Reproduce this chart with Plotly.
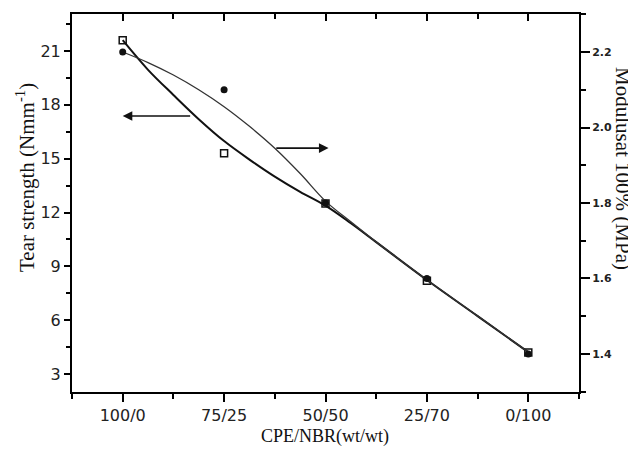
import plotly.graph_objects as go

# Data
categories = ["100/0", "75/25", "50/50", "25/70", "0/100"]
cat_pos = [0, 1, 2, 3, 4]
tear_strength = [21.6, 15.3, 12.5, 8.2, 4.2]
modulus_100 = [2.2, 2.1, 1.8, 1.6, 1.4]

# fitted curves (at quarter/half-category steps)
fit_pos = [0, 0.25, 0.5, 0.75, 1, 1.25, 1.5, 1.75, 2, 2.25, 2.5, 3, 3.5, 4]
tear_fit = [21.6, 19.95, 18.55, 17.2, 15.98, 14.95, 14.0, 13.15, 12.38, 11.4, 10.35, 8.24, 6.23, 4.22]
modulus_fit = [2.2, 2.172, 2.139, 2.100, 2.055, 2.003, 1.945, 1.878, 1.805, 1.750, 1.697, 1.596, 1.501, 1.405]

left_ticks = [3, 6, 9, 12, 15, 18, 21]
right_ticks = [1.4, 1.6, 1.8, 2.0, 2.2]

fig = go.Figure()

fig.add_trace(go.Scatter(x=fit_pos, y=tear_fit, mode="lines",
                         line=dict(color="#111111", width=2, shape="spline", smoothing=1.0),
                         yaxis="y", showlegend=False, hoverinfo="skip"))
fig.add_trace(go.Scatter(x=fit_pos, y=modulus_fit, mode="lines",
                         line=dict(color="#333333", width=1.3, shape="spline", smoothing=1.0),
                         yaxis="y2", showlegend=False, hoverinfo="skip"))
fig.add_trace(go.Scatter(x=cat_pos, y=tear_strength, mode="markers",
                         marker=dict(symbol="square-open", size=7, color="#111111", line=dict(width=1.5)),
                         yaxis="y", showlegend=False))
fig.add_trace(go.Scatter(x=cat_pos, y=modulus_100, mode="markers",
                         marker=dict(symbol="circle", size=7, color="#111111"),
                         yaxis="y2", showlegend=False))
# invisible trace for top axis
fig.add_trace(go.Scatter(x=[0], y=[10], xaxis="x2", yaxis="y", mode="markers",
                         marker=dict(opacity=0), showlegend=False, hoverinfo="skip"))

serif = "Liberation Serif, Times New Roman, serif"
sans = "DejaVu Sans, Arial, sans-serif"

fig.update_layout(
    width=628, height=442,
    margin=dict(l=64, r=57, t=6, b=58),
    paper_bgcolor="white", plot_bgcolor="white",
    xaxis=dict(range=[-0.5, 4.5], tickvals=cat_pos, ticktext=categories,
               showline=True, linecolor="black", linewidth=2, mirror=False,
               ticks="outside", ticklen=8, tickwidth=1.5, tickcolor="black",
               minor=dict(tickvals=[-0.5, 0.5, 1.5, 2.5, 3.5, 4.5], ticks="outside", ticklen=5,
                          tickwidth=1.5, tickcolor="black"),
               showgrid=False, zeroline=False,
               tickfont=dict(family=sans, size=16, color="#222222")),
    xaxis2=dict(range=[-0.5, 4.5], overlaying="x", side="top", anchor="y",
                tickvals=cat_pos, showticklabels=False,
                showline=True, linecolor="black", linewidth=2,
                ticks="inside", ticklen=7, tickwidth=1.5, tickcolor="black",
                minor=dict(tickvals=[0.5, 1.5, 2.5, 3.5], ticks="inside", ticklen=5,
                           tickwidth=1.5, tickcolor="black"),
                showgrid=False, zeroline=False),
    yaxis=dict(range=[2.0, 23.06], tickvals=left_ticks,
               showline=True, linecolor="black", linewidth=2,
               ticks="outside", ticklen=6, tickwidth=1.5, tickcolor="black",
               minor=dict(dtick=1.5, tick0=0, ticks="outside", ticklen=4, tickwidth=1.5, tickcolor="black"),
               showgrid=False, zeroline=False,
               tickfont=dict(family=sans, size=16, color="#222222")),
    yaxis2=dict(range=[1.2993, 2.3007], tickvals=right_ticks, tickformat=".1f",
                overlaying="y", side="right", anchor="x",
                showline=True, linecolor="black", linewidth=2,
                ticks="outside", ticklen=9, tickwidth=1.5, tickcolor="black",
                minor=dict(dtick=0.1, tick0=0, ticks="outside", ticklen=5, tickwidth=1.5, tickcolor="black"),
                showgrid=False, zeroline=False,
                tickfont=dict(family=sans, size=11, color="#222222", weight="bold")),
    annotations=[
        dict(text="Tear strength (Nmm<sup>-1</sup>)", xref="paper", yref="paper",
             x=-0.0927, y=0.566, xanchor="center", yanchor="middle", textangle=-90, showarrow=False,
             font=dict(family=serif, size=21, color="#111111")),
        dict(text="Modulusat 100% (MPa)", xref="paper", yref="paper",
             x=1.0868, y=0.5926, xanchor="center", yanchor="middle", textangle=90, showarrow=False,
             font=dict(family=serif, size=21, color="#111111")),
        dict(text="CPE/NBR(wt/wt)", xref="paper", yref="paper",
             x=0.499, y=-0.118, xanchor="center", yanchor="middle", showarrow=False,
             font=dict(family=serif, size=18, color="#111111")),
        dict(x=0.0, y=17.38, ax=0.68, ay=17.38, xref="x", yref="y", axref="x", ayref="y",
             text="", showarrow=True, arrowhead=2, arrowsize=1.2, arrowwidth=1.6, arrowcolor="#111111"),
        dict(x=2.03, y=15.59, ax=1.50, ay=15.59, xref="x", yref="y", axref="x", ayref="y",
             text="", showarrow=True, arrowhead=2, arrowsize=1.2, arrowwidth=1.6, arrowcolor="#111111"),
    ],
)

fig.write_html("out.html")
